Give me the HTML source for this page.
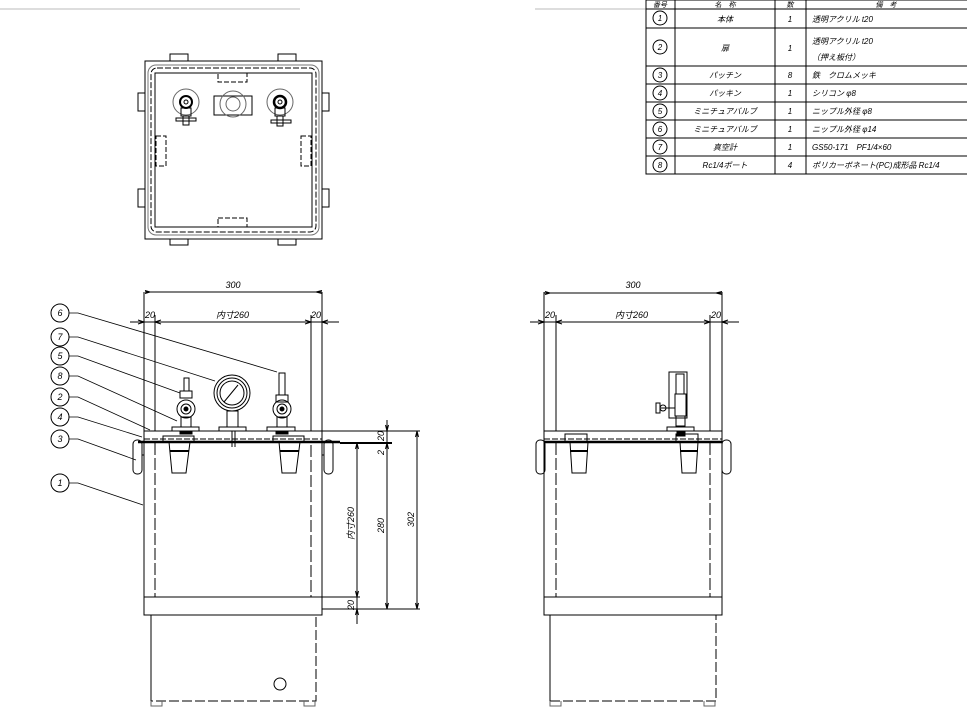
<!DOCTYPE html>
<html><head><meta charset="utf-8"><style>
html,body{margin:0;padding:0;background:#fff}
svg{display:block}
text{font-family:"Liberation Sans","Noto Sans CJK JP",sans-serif;font-style:italic;fill:#000}
</style></head><body>
<svg width="967" height="726" viewBox="0 0 967 726" xmlns="http://www.w3.org/2000/svg" fill="none" stroke="#000" stroke-width="1">
<line x1="0" y1="9" x2="300" y2="9" stroke="#bbb"/>
<line x1="535" y1="9" x2="967" y2="9" stroke="#bbb"/>

<g stroke-width="1">
<rect x="646" y="0" width="330" height="174"/>
<line x1="646" y1="9" x2="967" y2="9"/>
<line x1="646" y1="28" x2="967" y2="28"/>
<line x1="646" y1="66" x2="967" y2="66"/>
<line x1="646" y1="84" x2="967" y2="84"/>
<line x1="646" y1="102" x2="967" y2="102"/>
<line x1="646" y1="120" x2="967" y2="120"/>
<line x1="646" y1="138" x2="967" y2="138"/>
<line x1="646" y1="156" x2="967" y2="156"/>
<line x1="675" y1="0" x2="675" y2="174"/>
<line x1="775" y1="0" x2="775" y2="174"/>
<line x1="806" y1="0" x2="806" y2="174"/>
</g>
<g font-size="8" stroke="none" text-anchor="middle">
<text x="660" y="7" font-size="7">番号</text><text x="725" y="7" font-size="7">名　称</text><text x="790" y="7" font-size="7">数</text><text x="886" y="7" font-size="7">備　考</text>
<text x="725" y="22">本体</text><text x="725" y="51">扉</text><text x="725" y="78">パッチン</text><text x="725" y="96">パッキン</text><text x="725" y="114">ミニチュアバルブ</text><text x="725" y="132">ミニチュアバルブ</text><text x="725" y="150">真空計</text><text x="725" y="168">Rc1/4ポート</text>
<text x="790" y="22">1</text><text x="790" y="51">1</text><text x="790" y="78">8</text><text x="790" y="96">1</text><text x="790" y="114">1</text><text x="790" y="132">1</text><text x="790" y="150">1</text><text x="790" y="168">4</text>
</g>
<g font-size="8" stroke="none">
<text x="812" y="22">透明アクリル t20</text><text x="812" y="44">透明アクリル t20</text><text x="812" y="60">（押え板付）</text>
<text x="812" y="78">鉄　クロムメッキ</text><text x="812" y="96">シリコン φ8</text><text x="812" y="114">ニップル外径 φ8</text><text x="812" y="132">ニップル外径 φ14</text>
<text x="812" y="150">GS50-171　PF1/4×60</text><text x="812" y="168">ポリカーボネート(PC)成形品 Rc1/4</text>
</g>
<g>
<circle cx="660" cy="18" r="7"/><circle cx="660" cy="47" r="7"/><circle cx="660" cy="75" r="7"/><circle cx="660" cy="93" r="7"/>
<circle cx="660" cy="111" r="7"/><circle cx="660" cy="129" r="7"/><circle cx="660" cy="147" r="7"/><circle cx="660" cy="165" r="7"/>
</g>
<g font-size="8" stroke="none" text-anchor="middle">
<text x="660" y="21">1</text><text x="660" y="50">2</text><text x="660" y="78">3</text><text x="660" y="96">4</text><text x="660" y="114">5</text><text x="660" y="132">6</text><text x="660" y="150">7</text><text x="660" y="168">8</text>
</g>

<!-- TOP VIEW -->
<rect x="145" y="61" width="177" height="178"/>
<rect x="148" y="65" width="171" height="170" rx="8" stroke="#777"/>
<rect x="151" y="68" width="165" height="164" rx="6" stroke-dasharray="6 2"/>
<rect x="155" y="73" width="157" height="154"/>
<rect x="170" y="54" width="18" height="7"/><rect x="278" y="54" width="18" height="7"/>
<rect x="170" y="239" width="18" height="6"/><rect x="278" y="239" width="18" height="6"/>
<rect x="138" y="93" width="7" height="18"/><rect x="138" y="189" width="7" height="18"/>
<rect x="322" y="93" width="7" height="18"/><rect x="322" y="189" width="7" height="18"/>
<g stroke-dasharray="5 2">
<rect x="218" y="73" width="29" height="9"/><rect x="218" y="218" width="29" height="9"/>
<rect x="156" y="136" width="10" height="30"/><rect x="301" y="136" width="10" height="30"/>
</g>
<circle cx="186" cy="102" r="13" stroke="#666"/><circle cx="186" cy="102" r="6" stroke-width="2"/><circle cx="186" cy="102" r="2"/>
<rect x="181" y="108" width="10" height="8"/><rect x="176" y="118" width="20" height="3"/><rect x="183" y="116" width="6" height="9"/>
<circle cx="280" cy="102" r="13" stroke="#666"/><circle cx="280" cy="102" r="6" stroke-width="2.5"/><circle cx="280" cy="102" r="2"/>
<rect x="275" y="108" width="10" height="8"/><rect x="271" y="120" width="20" height="3"/><rect x="277" y="116" width="6" height="10"/>
<rect x="214" y="96" width="38" height="19"/><circle cx="233" cy="104" r="13" stroke="#666"/><circle cx="233" cy="104" r="7" stroke="#666"/>

<!-- FRONT VIEW -->
<line x1="144" y1="292" x2="144" y2="609"/><line x1="322" y1="292" x2="322" y2="609"/>
<line x1="155" y1="315" x2="155" y2="431"/><line x1="311" y1="315" x2="311" y2="431"/>
<path d="M155 443 V597 H311 V443" stroke-dasharray="12 3"/>
<rect x="144" y="597" width="178" height="18"/>
<path d="M151 615 V701 H316 V615" stroke-dasharray="10 3"/>
<line x1="151" y1="615" x2="151" y2="701"/>
<path d="M151 701 v5 h11 v-5 M304 701 v5 h11 v-5" stroke="#666"/>
<rect x="144" y="431" width="178" height="11"/>
<line x1="144" y1="439" x2="322" y2="439" stroke-dasharray="6 2"/>
<line x1="138" y1="442" x2="340" y2="442" stroke-width="2.5"/>
<line x1="145" y1="292" x2="322" y2="292"/>
<circle cx="280" cy="684" r="6"/>
<text x="233" y="288" font-size="9" stroke="none" text-anchor="middle">300</text>
<path d="M150 292 l-5 -1.5 M150 292 l-5 1.5 M316 292 l6 -1.5 M316 292 l6 1.5"/>
<line x1="130" y1="322" x2="339" y2="322"/>
<path d="M144 322 l-6 -2 M144 322 l-6 2 M155 322 l6 -2 M155 322 l6 2 M311 322 l-6 -2 M311 322 l-6 2 M322 322 l6 -2 M322 322 l6 2"/>
<g font-size="9" stroke="none"><text x="145" y="318">20</text><text x="216" y="318">内寸260</text><text x="311" y="318">20</text></g>
<line x1="322" y1="431" x2="420" y2="431"/><line x1="340" y1="443" x2="392" y2="443" stroke-width="2"/>
<line x1="322" y1="597" x2="360" y2="597"/><line x1="322" y1="609" x2="420" y2="609"/>
<line x1="357" y1="443" x2="357" y2="624"/>
<line x1="387" y1="420" x2="387" y2="609"/>
<line x1="417" y1="431" x2="417" y2="609"/>
<path d="M357 443 l-1.5 6 M357 443 l1.5 6 M357 597 l-1.5 -6 M357 597 l1.5 -6 M357 609 l-1.5 6 M357 609 l1.5 6 M387 431 l-1.5 -6 M387 431 l1.5 -6 M387 443 l-1.5 6 M387 443 l1.5 6 M387 609 l-1.5 -6 M387 609 l1.5 -6 M417 431 l-1.5 6 M417 431 l1.5 6 M417 609 l-1.5 -6 M417 609 l1.5 -6"/>
<g font-size="9" stroke="none">
<text transform="translate(354,540) rotate(-90)">内寸260</text>
<text transform="translate(384,533) rotate(-90)">280</text>
<text transform="translate(414,527) rotate(-90)">302</text>
<text transform="translate(384,441) rotate(-90)">20</text>
<text transform="translate(384,455) rotate(-90)">2</text>
<text transform="translate(354,610) rotate(-90)">20</text>
</g>
<rect x="184" y="378" width="5" height="13"/><rect x="180" y="391" width="12" height="7"/>
<circle cx="186" cy="409" r="9"/><circle cx="186" cy="409" r="5"/><circle cx="186" cy="409" r="2" fill="#000"/>
<rect x="181" y="417" width="10" height="10"/><rect x="172" y="427" width="27" height="4"/><rect x="180" y="431" width="12" height="3" fill="#000"/>
<circle cx="232" cy="393" r="18"/><circle cx="232" cy="393" r="15"/><circle cx="232" cy="393" r="12"/>
<line x1="224" y1="402" x2="238" y2="385"/>
<rect x="227" y="411" width="11" height="16"/><rect x="219" y="427" width="27" height="4"/><line x1="232" y1="431" x2="232" y2="447"/><line x1="235" y1="431" x2="235" y2="447"/>
<rect x="279" y="373" width="6" height="22"/><rect x="276" y="395" width="12" height="7"/>
<circle cx="282" cy="409" r="9"/><circle cx="282" cy="409" r="5"/><circle cx="282" cy="409" r="2" fill="#000"/>
<rect x="277" y="417" width="10" height="10"/><rect x="267" y="427" width="28" height="4"/><rect x="276" y="431" width="12" height="3" fill="#000"/>
<rect x="163" y="436" width="31" height="6"/>
<path d="M169 442 L172 473 H186 L190 442"/>
<line x1="170" y1="451" x2="189" y2="451" stroke-width="2"/>
<g transform="translate(110,0)"><rect x="163" y="436" width="31" height="6"/><path d="M169 442 L172 473 H186 L190 442"/><line x1="170" y1="451" x2="189" y2="451" stroke-width="2"/></g>
<rect x="133" y="440" width="9" height="34" rx="4"/><line x1="142" y1="455" x2="144" y2="455"/>
<rect x="324" y="440" width="9" height="34" rx="4"/><line x1="322" y1="455" x2="324" y2="455"/>
<g>
<circle cx="60" cy="313" r="9"/><circle cx="60" cy="337" r="9"/><circle cx="60" cy="356" r="9"/><circle cx="60" cy="376" r="9"/>
<circle cx="60" cy="397" r="9"/><circle cx="60" cy="417" r="9"/><circle cx="60" cy="439" r="9"/><circle cx="60" cy="483" r="9"/>
</g>
<g font-size="9" stroke="none" text-anchor="middle">
<text x="60" y="316">6</text><text x="60" y="340">7</text><text x="60" y="359">5</text><text x="60" y="379">8</text><text x="60" y="400">2</text><text x="60" y="420">4</text><text x="60" y="442">3</text><text x="60" y="486">1</text>
</g>
<g stroke-width="0.8">
<path d="M69 313 H78 L277 372"/><path d="M69 337 H78 L215 381"/><path d="M69 356 H78 L180 393"/><path d="M69 376 H78 L177 421"/>
<path d="M69 397 H78 L150 430"/><path d="M69 417 H78 L142 437"/><path d="M69 439 H78 L136 460"/><path d="M69 483 H78 L143 505"/>
</g>

<!-- RIGHT VIEW -->
<g transform="translate(400,0)">
<line x1="144" y1="292" x2="144" y2="609"/><line x1="322" y1="292" x2="322" y2="609"/>
<line x1="156" y1="315" x2="156" y2="431"/><line x1="310" y1="315" x2="310" y2="431"/>
<path d="M156 443 V597 H310 V443" stroke-dasharray="12 3"/>
<rect x="144" y="597" width="178" height="18"/>
<line x1="150" y1="615" x2="150" y2="701"/>
<path d="M150 701 H316 V615" stroke-dasharray="10 3"/>
<path d="M150 701 v5 h11 v-5 M304 701 v5 h11 v-5" stroke="#666"/>
<rect x="144" y="431" width="178" height="11"/>
<line x1="144" y1="439" x2="322" y2="439" stroke-dasharray="6 2"/>
<line x1="144" y1="442" x2="322" y2="442" stroke-width="2.5"/>
<line x1="144" y1="293" x2="322" y2="293"/>
<path d="M150 293 l-5 -1.5 M150 293 l-5 1.5 M316 293 l6 -1.5 M316 293 l6 1.5"/>
<line x1="130" y1="322" x2="339" y2="322"/>
<path d="M144 322 l-6 -2 M144 322 l-6 2 M156 322 l6 -2 M156 322 l6 2 M310 322 l-6 -2 M310 322 l-6 2 M322 322 l6 -2 M322 322 l6 2"/>
<rect x="165" y="434" width="22" height="8"/>
<path d="M170 442 L172 473 H186 L188 442"/><line x1="170" y1="451" x2="188" y2="451" stroke-width="2"/>
<rect x="276" y="434" width="22" height="8"/>
<path d="M280 442 L282 473 H296 L298 442"/><line x1="280" y1="451" x2="298" y2="451" stroke-width="2"/>
<rect x="136" y="440" width="9" height="34" rx="4"/>
<rect x="322" y="440" width="9" height="34" rx="4"/>
<rect x="269" y="372" width="18" height="46"/><rect x="276" y="374" width="8" height="20"/>
<rect x="275" y="394" width="11" height="22"/><circle cx="263" cy="408" r="3"/><rect x="256" y="403" width="4" height="10"/><line x1="260" y1="408" x2="275" y2="408"/>
<rect x="276" y="416" width="9" height="10"/><rect x="267" y="427" width="27" height="4"/><rect x="277" y="431" width="8" height="5" fill="#000"/>
</g>
<g font-size="9" stroke="none">
<text x="633" y="288" text-anchor="middle">300</text>
<text x="545" y="318">20</text><text x="615" y="318">内寸260</text><text x="711" y="318">20</text>
</g>
</svg>
</body></html>
